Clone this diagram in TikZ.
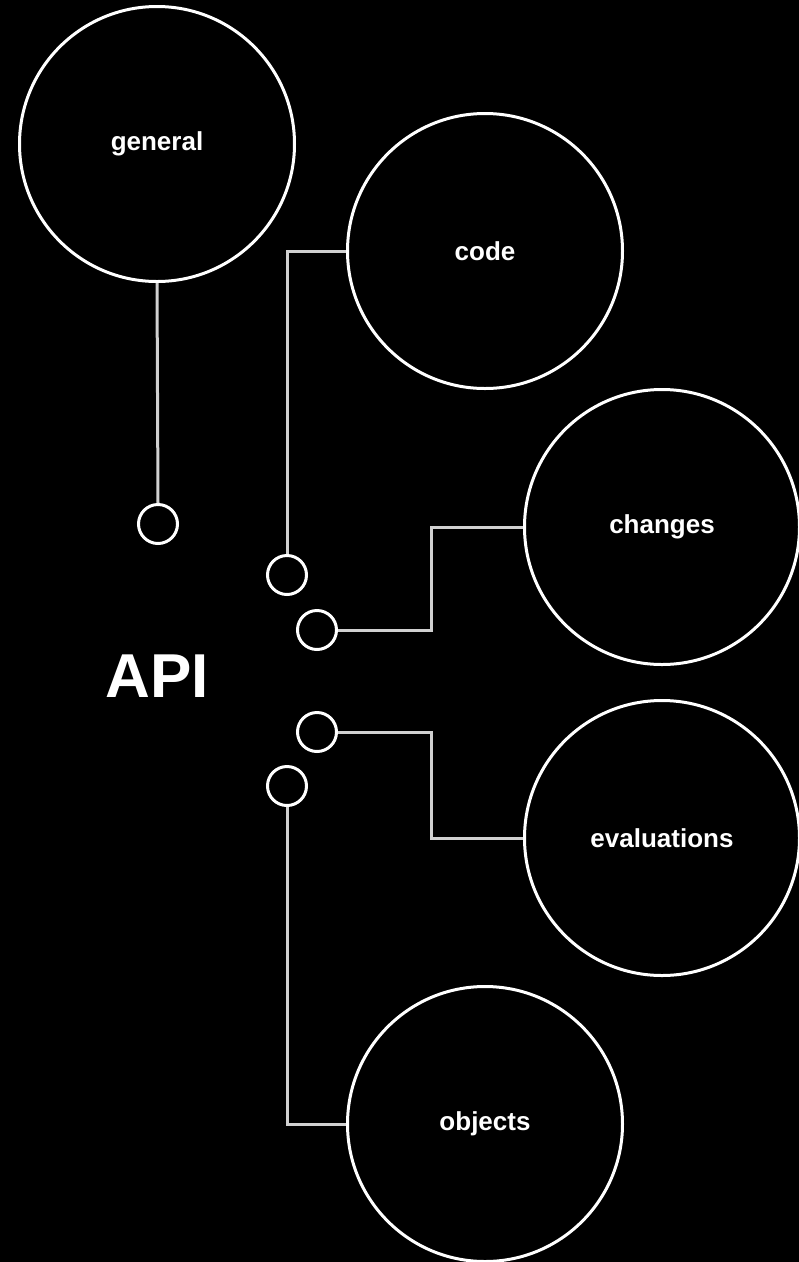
\documentclass[tikz,border=0pt]{standalone}
\usepackage{fontspec}
\setmainfont{Liberation Sans}
\definecolor{linkgray}{HTML}{D0D0D0}
\begin{document}
\begin{tikzpicture}[x=1pt,y=-1pt,
  big/.style={circle, draw=white, line width=3pt, minimum size=275pt, inner sep=0pt,
    text=white, font=\bfseries\fontsize{26}{30}\selectfont},
  port/.style={circle, draw=white, line width=3pt, minimum size=39pt, inner sep=0pt},
  link/.style={draw=linkgray, line width=3pt}]
\fill[black] (0,0) rectangle (799,1262);
\useasboundingbox (0,0) rectangle (799,1262);
% big circles
\node[big] (general) at (157,144) {general};
\node[big] (code) at (485,251) {code};
\node[big] (changes) at (662,527) {changes};
\node[big] (evaluations) at (662,838) {evaluations};
\node[big] (objects) at (485,1124) {objects};
% ports
\node[port] (p1) at (158,524) {};
\node[port] (p2) at (287,575) {};
\node[port] (p3) at (317,630) {};
\node[port] (p4) at (317,732) {};
\node[port] (p5) at (287,786) {};
% API
\node[text=white, font=\bfseries\fontsize{62}{70}\selectfont, inner sep=0pt] (api) at (157.5,676) {API};
% connectors
\draw[link] (general.south) -- (p1.north);
\draw[link] (code.west) -| (p2.north);
\coordinate (c3) at (431,0);
\draw[link] (changes.west) -- (changes.west -| c3) |- (p3.east);
\draw[link] (p4.east) -- (p4.east -| c3) |- (evaluations.west);
\draw[link] (p5.south) |- (objects.west);
\end{tikzpicture}
\end{document}
